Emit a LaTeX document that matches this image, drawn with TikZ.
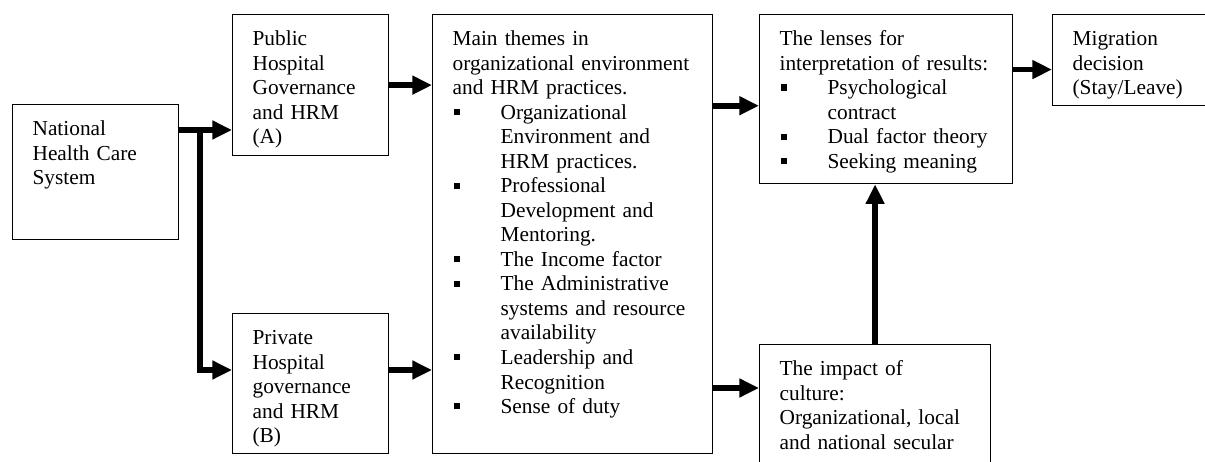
\documentclass[tikz,border=0pt]{standalone}
\usepackage{fontspec}
\setmainfont{Liberation Serif}
\usepackage{tikz}
\usetikzlibrary{arrows.meta, positioning}

% square bullet with hanging indent
\newcommand{\sqitem}{\par\hangindent=27pt\hangafter=1\noindent
  \makebox[27pt][l]{\hspace{1pt}\rule[2.3pt]{3.4pt}{3.4pt}}}

\begin{document}
\begin{tikzpicture}[x=0.5625pt, y=-0.5625pt,
    box/.style={draw, line width=0.7pt, anchor=north west, align=left,
      inner xsep=11.25pt, inner ysep=0pt, text height=17.4pt,
      font=\fontsize{12pt}{13.8pt}\selectfont},
    conn/.style={line width=3.2pt, -{Triangle[length=11pt, width=10pt]}}]
        \clip (0,0) rectangle (1205,462);

        % System and the two hospital sectors
        \node[box, text width=70.9pt, text depth=58.5pt] (nat) at (12,104)
          {National\\Health Care\\System};
        \node[box, text width=65.25pt, text depth=61.9pt] (pub) at (232,14)
          {Public\\Hospital\\Governance\\and HRM\\(A)};
        \node[box, text width=65.25pt, text depth=61.35pt] (priv) at (232,313)
          {Private\\Hospital\\governance\\and HRM\\(B)};

        % Themes
        \node[box, text width=135pt, text depth=229.5pt] (themes) at (432,14)
          {Main themes in\\organizational environment\\and HRM practices.
           \sqitem Organizational\newline Environment and\newline HRM practices.
           \sqitem Professional\newline Development and\newline Mentoring.
           \sqitem The Income factor
           \sqitem The Administrative\newline systems and resource\newline availability
           \sqitem Leadership and\newline Recognition
           \sqitem Sense of duty};

        % Interpretation and outcome
        \node[box, text width=119.8pt, text depth=77.7pt] (lens) at (759,14)
          {The lenses for\\interpretation of results:
           \sqitem Psychological\newline contract
           \sqitem Dual factor theory
           \sqitem Seeking meaning};
        \node[box, text width=75pt, text depth=33.8pt] (migr) at (1052,14)
          {Migration\\decision\\(Stay/Leave)};
        \node[box, text width=107.4pt, text depth=59.1pt] (cult) at (759,344)
          {The impact of\\culture:\\Organizational, local\\and national secular};

        % Connectors
        \coordinate (fork) at (200,130);
        \coordinate (forkb) at (200,370);
        \draw[conn] (nat.east |- fork) -- (pub.west |- fork);
        \draw[conn] (fork) -- (forkb) -- (priv.west |- forkb);
        \draw[conn] (pub.east) -- (pub.east -| themes.west);
        \draw[conn] (priv.east |- forkb) -- (forkb -| themes.west);
        \path ([yshift=-3.7pt]lens.west) coordinate (lensin);
        \path ([yshift=-24.75pt]cult.north west) coordinate (cultin);
        \path ([yshift=-5.3pt]migr.west) coordinate (migrin);
        \draw[conn] (themes.east |- lensin) -- (lensin);
        \draw[conn] (themes.east |- cultin) -- (cultin);
        \draw[conn] (lens.east |- migrin) -- (migrin);
        \draw[conn] (cult.north) -- (cult.north |- lens.south);
\end{tikzpicture}
\end{document}
